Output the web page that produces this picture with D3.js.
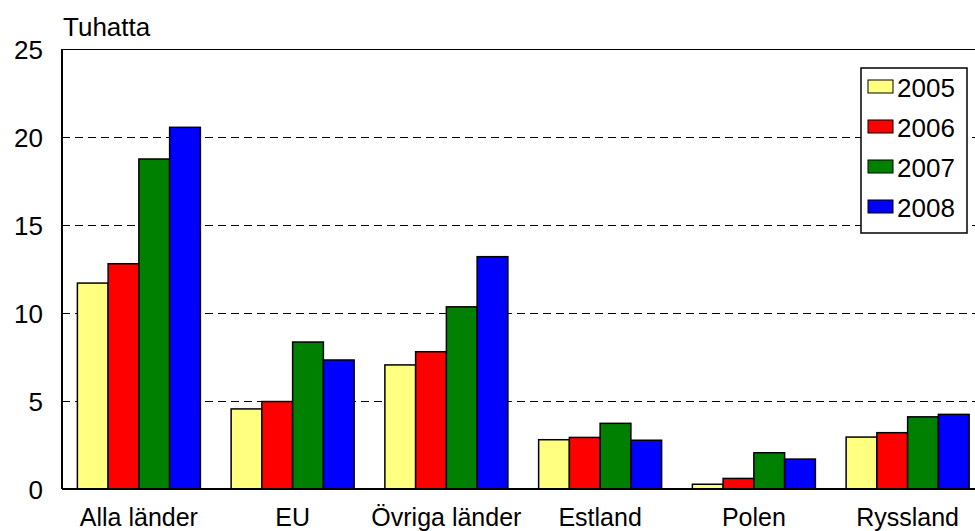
<!DOCTYPE html>
<html>
<head>
<meta charset="utf-8">
<script src="https://cdn.jsdelivr.net/npm/d3@7"></script>
<style>
  body { margin: 0; background: #fff; }
  svg { display: block; font-family: "Liberation Sans", Arial, sans-serif; }
</style>
</head>
<body>
<svg width="975" height="531"></svg>
<script>
'use strict';

const categories = ["Alla länder", "EU", "Övriga länder", "Estland", "Polen", "Ryssland"];
const years = ["2005", "2006", "2007", "2008"];
const v2005 = [11.7, 4.55, 7.05, 2.8, 0.27, 2.95];
const v2006 = [12.8, 4.97, 7.8, 2.93, 0.6, 3.2];
const v2007 = [18.75, 8.35, 10.35, 3.73, 2.06, 4.1];
const v2008 = [20.55, 7.33, 13.2, 2.77, 1.7, 4.24];
const yTicks = [0, 5, 10, 15, 20, 25];
const colors = ["#ffff80", "#ff0000", "#008000", "#0000ff"];

const series = [v2005, v2006, v2007, v2008];

let svg = d3.select("svg");

let margin = {left: 62, top: 49, bottom: 42};
let height = 531;

let x = d3.scaleBand()
  .domain(categories)
  .range([margin.left, 984.5])
  .paddingInner(0.2)
  .paddingOuter(0.1);

let xInner = d3.scaleBand()
  .domain(years)
  .range([0, x.bandwidth()]);

let y = d3.scaleLinear()
  .domain([0, 25])
  .range([height - margin.bottom, margin.top]);

// grid lines
svg.append("g")
  .selectAll("line")
  .data(yTicks.filter(d => d > 0 && d < 25))
  .join("line")
    .attr("x1", margin.left)
    .attr("x2", 975)
    .attr("y1", d => y(d) + 0.5)
    .attr("y2", d => y(d) + 0.5)
    .attr("stroke", "#000")
    .attr("stroke-width", 1)
    .attr("stroke-dasharray", "8,5");

// top border
svg.append("line")
  .attr("x1", margin.left).attr("x2", 975)
  .attr("y1", y(25) + 0.5).attr("y2", y(25) + 0.5)
  .attr("stroke", "#000").attr("stroke-width", 1);

// bars
let groups = svg.append("g")
  .selectAll("g")
  .data(categories)
  .join("g")
    .attr("transform", d => `translate(${x(d)},0)`);

groups.selectAll("rect")
  .data((c, i) => years.map((yr, j) => ({yr: yr, v: series[j][i], j: j})))
  .join("rect")
    .attr("x", d => xInner(d.yr))
    .attr("width", xInner.bandwidth())
    .attr("y", d => y(d.v))
    .attr("height", d => y(0) - y(d.v))
    .attr("fill", d => colors[d.j])
    .attr("stroke", "#000")
    .attr("stroke-width", 1.5);

// axes lines
svg.append("line")
  .attr("x1", margin.left).attr("x2", margin.left)
  .attr("y1", y(25)).attr("y2", y(0))
  .attr("stroke", "#000").attr("stroke-width", 2);
svg.append("line")
  .attr("x1", margin.left).attr("x2", 975)
  .attr("y1", y(0)).attr("y2", y(0))
  .attr("stroke", "#000").attr("stroke-width", 2);

// y tick labels
svg.append("g")
  .selectAll("text")
  .data(yTicks)
  .join("text")
    .attr("x", 43)
    .attr("y", d => y(d) + 9.5)
    .attr("text-anchor", "end")
    .attr("font-size", 26)
    .text(d => d);

// category labels
svg.append("g")
  .selectAll("text")
  .data(categories)
  .join("text")
    .attr("x", d => x(d) + x.bandwidth() / 2)
    .attr("y", 526)
    .attr("text-anchor", "middle")
    .attr("font-size", 25)
    .text(d => d);

// unit label
svg.append("text")
  .attr("x", 63)
  .attr("y", 36)
  .attr("font-size", 26)
  .text("Tuhatta");

// legend
let legend = svg.append("g");
legend.append("rect")
  .attr("x", 861).attr("y", 68)
  .attr("width", 106).attr("height", 165)
  .attr("fill", "#fff")
  .attr("stroke", "#000")
  .attr("stroke-width", 1.5);

let items = legend.selectAll("g")
  .data(years)
  .join("g")
    .attr("transform", (d, i) => `translate(868,${87 + i * 40})`);

items.append("rect")
  .attr("x", 0).attr("y", -7)
  .attr("width", 25).attr("height", 13)
  .attr("fill", (d, i) => colors[i])
  .attr("stroke", "#000")
  .attr("stroke-width", 1);

items.append("text")
  .attr("x", 29)
  .attr("y", 9.5)
  .attr("font-size", 26)
  .text(d => d);
</script>
</body>
</html>
